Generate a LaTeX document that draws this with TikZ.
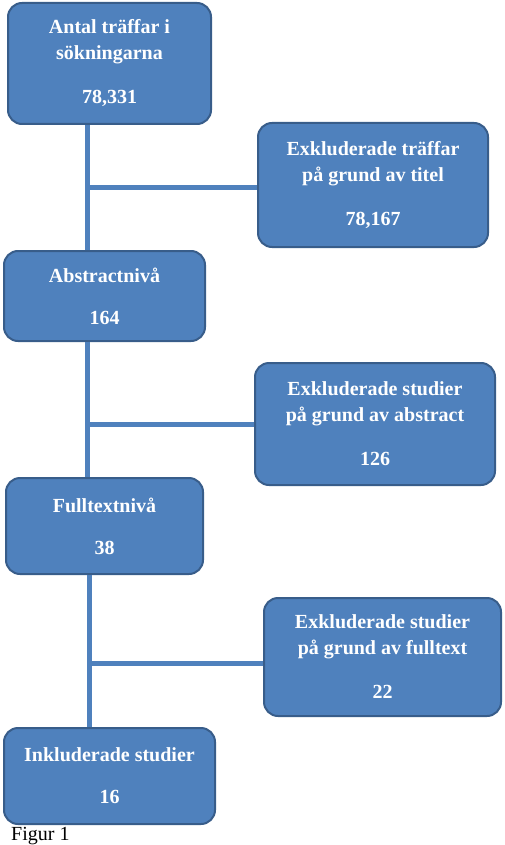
\documentclass[tikz,border=0pt]{standalone}
\usepackage{fontspec}
\setmainfont{Liberation Serif}
\definecolor{boxfill}{HTML}{4F81BD}
\definecolor{boxline}{HTML}{385D8A}
\begin{document}
\begin{tikzpicture}[
x=1pt,y=-1pt,
box/.style={draw=boxline,fill=boxfill,line width=2pt,rounded corners=14pt,
  text=white,font=\bfseries\fontsize{20}{26}\selectfont,align=center,inner sep=0pt},
link/.style={draw=boxfill,line width=5pt},
]
\useasboundingbox (0,0) rectangle (504,845);
% steps down the left side
\node[box,minimum width=203,minimum height=121] (sok) at (109.5,63.5)
    {Antal träffar i\\sökningarna\\[18pt]78,331};
\node[box,minimum width=201,minimum height=90] (abs) at (104.5,296)
    {Abstractnivå\\[16pt]164};
\node[box,minimum width=197,minimum height=96] (full) at (104.5,526)
    {Fulltextnivå\\[16pt]38};
\node[box,minimum width=211,minimum height=96] (ink) at (109.5,776)
    {Inkluderade studier\\[16pt]16};
% excluded on the right
\node[box,minimum width=230,minimum height=124] (extit) at (373,185)
    {Exkluderade träffar\\på grund av titel\\[18pt]78,167};
\node[box,minimum width=240,minimum height=122] (exabs) at (375,424)
    {Exkluderade studier\\på grund av abstract\\[18pt]126};
\node[box,minimum width=237,minimum height=118] (exfull) at (382.5,657)
    {Exkluderade studier\\på grund av fulltext\\[18pt]22};
\node[anchor=base west,font=\fontsize{20}{24}\selectfont,inner sep=0pt] (fig) at (11,840) {Figur 1};
% connectors
\coordinate (j1) at (87,187);
\coordinate (j2) at (87,424);
\coordinate (j3) at (89,663);
\draw[link] (sok.south -| j1) -- (abs.north -| j1);
\draw[link] (j1) -- (j1 -| extit.west);
\draw[link] (abs.south -| j2) -- (full.north -| j2);
\draw[link] (j2) -- (j2 -| exabs.west);
\draw[link] (full.south -| j3) -- (ink.north -| j3);
\draw[link] (j3) -- (j3 -| exfull.west);
\end{tikzpicture}
\end{document}
